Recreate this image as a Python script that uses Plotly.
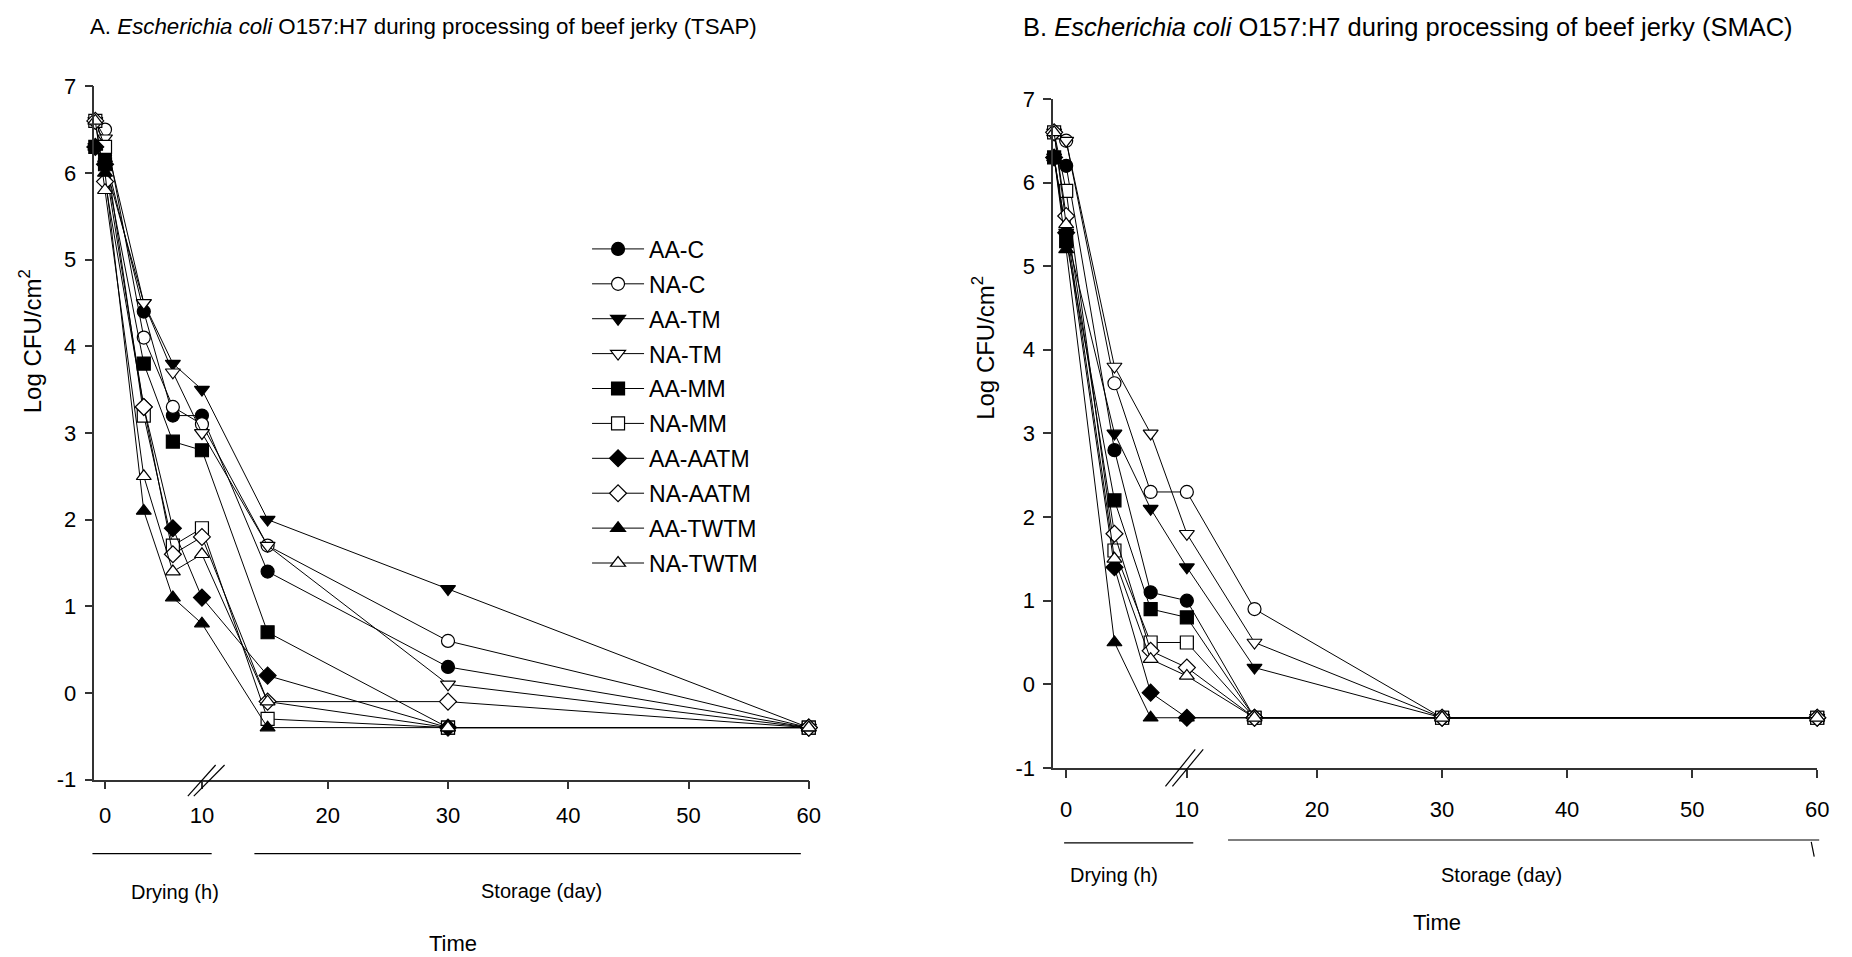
import plotly.graph_objects as go

# sampling times: drying in hours (first point = before drying), storage in days
DRYING_H = [-1, 0, 4, 7, 10]
STORAGE_D = [15, 30, 60]

SERIES = ["AA-C", "NA-C", "AA-TM", "NA-TM", "AA-MM", "NA-MM",
          "AA-AATM", "NA-AATM", "AA-TWTM", "NA-TWTM"]

# A. TSAP counts (log CFU/cm2)
TSAP_AA_C = [6.3, 6.2, 4.4, 3.2, 3.2, 1.4, 0.3, -0.4]
TSAP_NA_C = [6.6, 6.5, 4.1, 3.3, 3.1, 1.7, 0.6, -0.4]
TSAP_AA_TM = [6.3, 6.1, 4.5, 3.8, 3.5, 2.0, 1.2, -0.4]
TSAP_NA_TM = [6.6, 6.4, 4.5, 3.7, 3.0, 1.7, 0.1, -0.4]
TSAP_AA_MM = [6.3, 6.1, 3.8, 2.9, 2.8, 0.7, -0.4, -0.4]
TSAP_NA_MM = [6.6, 6.3, 3.2, 1.7, 1.9, -0.3, -0.4, -0.4]
TSAP_AA_AATM = [6.3, 6.1, 3.3, 1.9, 1.1, 0.2, -0.4, -0.4]
TSAP_NA_AATM = [6.6, 5.9, 3.3, 1.6, 1.8, -0.1, -0.1, -0.4]
TSAP_AA_TWTM = [6.3, 6.0, 2.1, 1.1, 0.8, -0.4, -0.4, -0.4]
TSAP_NA_TWTM = [6.6, 5.8, 2.5, 1.4, 1.6, -0.1, -0.4, -0.4]

# B. SMAC counts (log CFU/cm2)
SMAC_AA_C = [6.3, 6.2, 2.8, 1.1, 1.0, -0.4, -0.4, -0.4]
SMAC_NA_C = [6.6, 6.5, 3.6, 2.3, 2.3, 0.9, -0.4, -0.4]
SMAC_AA_TM = [6.3, 5.4, 3.0, 2.1, 1.4, 0.2, -0.4, -0.4]
SMAC_NA_TM = [6.6, 6.5, 3.8, 3.0, 1.8, 0.5, -0.4, -0.4]
SMAC_AA_MM = [6.3, 5.3, 2.2, 0.9, 0.8, -0.4, -0.4, -0.4]
SMAC_NA_MM = [6.6, 5.9, 1.6, 0.5, 0.5, -0.4, -0.4, -0.4]
SMAC_AA_AATM = [6.3, 5.4, 1.4, -0.1, -0.4, -0.4, -0.4, -0.4]
SMAC_NA_AATM = [6.6, 5.6, 1.8, 0.4, 0.2, -0.4, -0.4, -0.4]
SMAC_AA_TWTM = [6.3, 5.2, 0.5, -0.4, -0.4, -0.4, -0.4, -0.4]
SMAC_NA_TWTM = [6.6, 5.5, 1.5, 0.3, 0.1, -0.4, -0.4, -0.4]

TSAP = [TSAP_AA_C, TSAP_NA_C, TSAP_AA_TM, TSAP_NA_TM, TSAP_AA_MM,
        TSAP_NA_MM, TSAP_AA_AATM, TSAP_NA_AATM, TSAP_AA_TWTM, TSAP_NA_TWTM]
SMAC = [SMAC_AA_C, SMAC_NA_C, SMAC_AA_TM, SMAC_NA_TM, SMAC_AA_MM,
        SMAC_NA_MM, SMAC_AA_AATM, SMAC_NA_AATM, SMAC_AA_TWTM, SMAC_NA_TWTM]

Y_TICKS = [-1, 0, 1, 2, 3, 4, 5, 6, 7]
X_TICK_TEXT = ["0", "10", "20", "30", "40", "50", "60"]

SYMBOLS = ["circle", "circle", "triangle-down", "triangle-down", "square", "square",
           "diamond", "diamond", "triangle-up", "triangle-up"]

W, H = 1852, 957
FONT = "Liberation Sans, Arial, sans-serif"

# broken x axis: drying hours squeezed in front of the day scale
# (offset, hours->axis factor) per panel
BREAK = {"x": (1.48, 0.806), "x2": (-0.06, 0.965)}


def axis_pos(ax):
    off, k = BREAK[ax]
    return [off + k * h for h in DRYING_H] + STORAGE_D


def P(px, py):
    return px / W, 1 - py / H


fig = go.Figure()
for ax, ya, data, show in (("x", "y", TSAP, True), ("x2", "y2", SMAC, False)):
    xs = axis_pos(ax)
    for i, (name, vals) in enumerate(zip(SERIES, data)):
        filled = i % 2 == 0
        fig.add_trace(go.Scatter(
            x=xs, y=vals, mode="lines+markers", name=name,
            xaxis=ax, yaxis=ya, showlegend=show, legendgroup=name,
            cliponaxis=False,
            line=dict(color="black", width=1),
            marker=dict(symbol=SYMBOLS[i], size=13,
                        color="black" if filled else "white",
                        line=dict(color="black", width=1.2)),
        ))

ytick = dict(range=[-1, 7], tickvals=Y_TICKS, ticktext=[str(v) for v in Y_TICKS],
             showline=True, linecolor="#333", linewidth=1.5, ticks="outside", ticklen=8,
             tickwidth=1.5, tickcolor="#333", showgrid=False, zeroline=False,
             ticklabelstandoff=4, tickfont=dict(size=22, family=FONT, color="black"))


def xaxis_cfg(ax, lo, dom, standoff):
    off, k = BREAK[ax]
    return dict(domain=dom, range=[lo, 60],
                tickvals=[off, off + 10 * k, 20, 30, 40, 50, 60],
                ticktext=X_TICK_TEXT,
                showline=True, linecolor="#333", linewidth=1.5, ticks="outside",
                ticklen=8, tickwidth=1.5, tickcolor="#333", showgrid=False,
                zeroline=False, ticklabelstandoff=standoff,
                tickfont=dict(size=22, family=FONT, color="black"))


fig.update_layout(
    width=W, height=H, autosize=False,
    margin=dict(l=0, r=0, t=0, b=0),
    paper_bgcolor="white", plot_bgcolor="white",
    font=dict(family=FONT, color="black"),
    xaxis=dict(xaxis_cfg("x", 0.6, [87 / W, 806 / W], 7), anchor="y"),
    yaxis=dict(ytick, domain=[1 - 780 / H, 1 - 68 / H], anchor="x"),
    xaxis2=dict(xaxis_cfg("x2", -1.1, [1052 / W, 1821 / W], 13), anchor="y2"),
    yaxis2=dict(ytick, domain=[1 - 768 / H, 1 - 81 / H], anchor="x2"),
    legend=dict(x=0.3147, y=0.7774, xanchor="left", yanchor="top",
                traceorder="grouped", tracegroupgap=2, itemwidth=52,
                bgcolor="rgba(0,0,0,0)", font=dict(size=23, family=FONT)),
)

notes = [
    (81, 7, "A. <i>Escherichia coli</i> O157:H7 during processing of beef jerky (TSAP)", 22.3, "left", 0),
    (1020, 7, "B. <i>Escherichia coli</i> O157:H7 during processing of beef jerky (SMAC)", 25.5, "left", 0),
    (23, 330, "Log CFU/cm<sup>2</sup>", 24, "center", -90),
    (982, 337, "Log CFU/cm<sup>2</sup>", 24, "center", -90),
    (168, 895, "Drying (h)", 20, "center", 0),
    (537, 894, "Storage (day)", 20, "center", 0),
    (448, 948, "Time", 22, "center", 0),
    (1113, 878, "Drying (h)", 20, "center", 0),
    (1503, 878, "Storage (day)", 20, "center", 0),
    (1438, 927, "Time", 22, "center", 0),
]
for px, py, text, size, anchor, ang in notes:
    x, y = P(px, py)
    fig.add_annotation(x=x, y=y, xref="paper", yref="paper", text=text,
                       showarrow=False, xanchor=anchor, yanchor="middle",
                       textangle=ang, font=dict(size=size, family=FONT, color="black"))

# segment lines under the axes, break marks
segs = [
    (85, 856, 205, 856), (248, 856, 798, 856),
    (1063, 845, 1193, 845), (1228, 842, 1823, 842), (1815, 844, 1818, 859),
    (181, 797, 209, 765), (187, 797, 218, 765),
    (1165, 787, 1195, 749), (1172, 787, 1203, 749),
]
for x0, y0, x1, y1 in segs:
    a, b = P(x0, y0)
    c, d = P(x1, y1)
    fig.add_shape(type="line", xref="paper", yref="paper", x0=a, y0=b, x1=c, y1=d,
                  line=dict(color="black", width=1.2))

fig.write_html("out.html")
